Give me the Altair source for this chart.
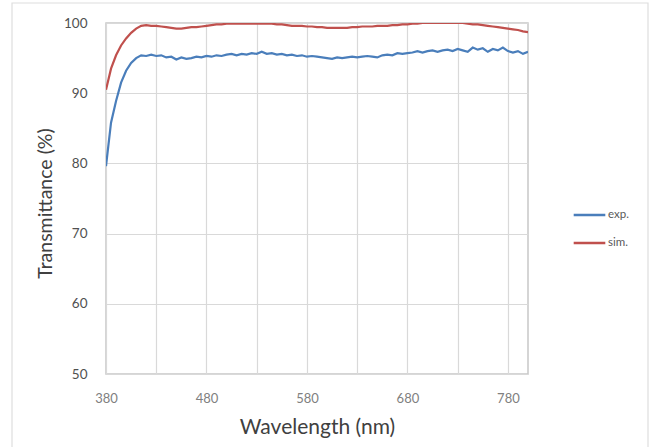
import altair as alt
import pandas as pd

wavelength = list(range(380, 801, 5))

exp_vals = [79.6, 85.8, 88.9, 91.5, 93.2, 94.3, 95.0, 95.4, 95.3, 95.5,
            95.3, 95.4, 95.1, 95.2, 94.8, 95.1, 94.9, 95.0, 95.2, 95.1,
            95.3, 95.2, 95.4, 95.3, 95.5, 95.6, 95.4, 95.6, 95.5, 95.7,
            95.6, 95.9, 95.6, 95.7, 95.5, 95.6, 95.4, 95.5, 95.3, 95.4,
            95.2, 95.3, 95.2, 95.1, 95.0, 94.9, 95.1, 95.0, 95.1, 95.2,
            95.1, 95.2, 95.3, 95.2, 95.1, 95.4, 95.5, 95.4, 95.7, 95.6,
            95.7, 95.8, 96.0, 95.8, 96.0, 96.1, 95.9, 96.1, 96.2, 96.0,
            96.3, 96.1, 95.9, 96.5, 96.2, 96.4, 95.9, 96.3, 96.1, 96.5,
            96.0, 95.8, 96.0, 95.6, 95.9]

sim_vals = [90.5, 93.5, 95.4, 96.8, 97.8, 98.6, 99.2, 99.6, 99.7, 99.6,
            99.6, 99.5, 99.4, 99.3, 99.2, 99.2, 99.3, 99.4, 99.4, 99.5,
            99.6, 99.7, 99.8, 99.8, 99.9, 99.9, 99.9, 99.9, 99.9, 99.9,
            99.9, 99.9, 99.9, 99.9, 99.8, 99.8, 99.7, 99.6, 99.6, 99.6,
            99.5, 99.5, 99.4, 99.4, 99.3, 99.3, 99.3, 99.3, 99.3, 99.4,
            99.4, 99.5, 99.5, 99.5, 99.6, 99.6, 99.6, 99.7, 99.7, 99.8,
            99.8, 99.9, 99.9, 100.0, 100.0, 100.0, 100.0, 100.0, 100.0, 100.0,
            100.0, 100.0, 99.9, 99.8, 99.8, 99.7, 99.6, 99.5, 99.4, 99.3,
            99.2, 99.1, 99.0, 98.8, 98.7]

series_names = ["exp.", "sim."]
series_colors = ["#4a7ebb", "#c0504d"]
x_ticks = list(range(380, 781, 50))
y_ticks = [50, 60, 70, 80, 90, 100]

n = min(len(wavelength), len(exp_vals), len(sim_vals))
df = pd.DataFrame({
    "Wavelength": wavelength[:n] * 2,
    "T": exp_vals[:n] + sim_vals[:n],
    "Series": [series_names[0]] * n + [series_names[1]] * n,
})

FONT = "Lato"

frame = alt.Chart(alt.Data(values=[{}])).mark_rect(
    fillOpacity=0, stroke="#dedede", strokeWidth=1.2, clip=False
).encode(
    x=alt.value(-94), x2=alt.value(542), y=alt.value(-20), y2=alt.value(460)
)

lines = alt.Chart(df).mark_line(strokeWidth=2.2, clip=True).encode(
    x=alt.X("Wavelength:Q",
            scale=alt.Scale(domain=[380, 800], nice=False, zero=False),
            axis=alt.Axis(values=x_ticks,
                          labelExpr="(datum.value - 380) % 100 == 0 ? datum.label : ''",
                          title="Wavelength (nm)", grid=True, ticks=False, domain=False,
                          labelFlush=False,
                          labelFont=FONT, labelFontSize=13, labelColor="#808080",
                          labelPadding=18,
                          titleFont=FONT, titleFontSize=21, titleFontWeight="normal",
                          titleColor="#404040", titleX=211, titleY=53,
                          titleBaseline="middle", titleAlign="center",
                          gridColor="#d9d9d9", gridWidth=1.2)),
    y=alt.Y("T:Q",
            scale=alt.Scale(domain=[50, 100], nice=False, zero=False),
            axis=alt.Axis(values=y_ticks, title="Transmittance (%)", grid=True,
                          ticks=False, domain=False, labelFlush=False,
                          labelFont=FONT, labelFontSize=13.5, labelColor="#505050",
                          labelPadding=19,
                          titleFont=FONT, titleFontSize=19.5, titleFontWeight="normal",
                          titleColor="#404040", titleAngle=-90, titleX=-61, titleY=180,
                          titleBaseline="middle", titleAlign="center",
                          gridColor="#d9d9d9", gridWidth=1.2)),
    color=alt.Color("Series:N",
                    scale=alt.Scale(domain=series_names, range=series_colors),
                    legend=alt.Legend(title=None, orient="none", legendX=466, legendY=185,
                                      symbolType="stroke", symbolSize=1000,
                                      symbolStrokeWidth=2.5, clipHeight=14,
                                      rowPadding=14, labelOffset=1,
                                      labelFont=FONT, labelFontSize=11.5,
                                      labelColor="#595959")),
)

chart = alt.layer(frame, lines).properties(
    width=422, height=351,
    autosize=alt.AutoSizeParams(type="none"),
    padding={"left": 106, "top": 23, "right": 124, "bottom": 73},
    background="white",
).configure_view(stroke="#c8c8c8", strokeWidth=1.5)

chart.save("out.html", embed_options={"renderer": "svg", "actions": False})
